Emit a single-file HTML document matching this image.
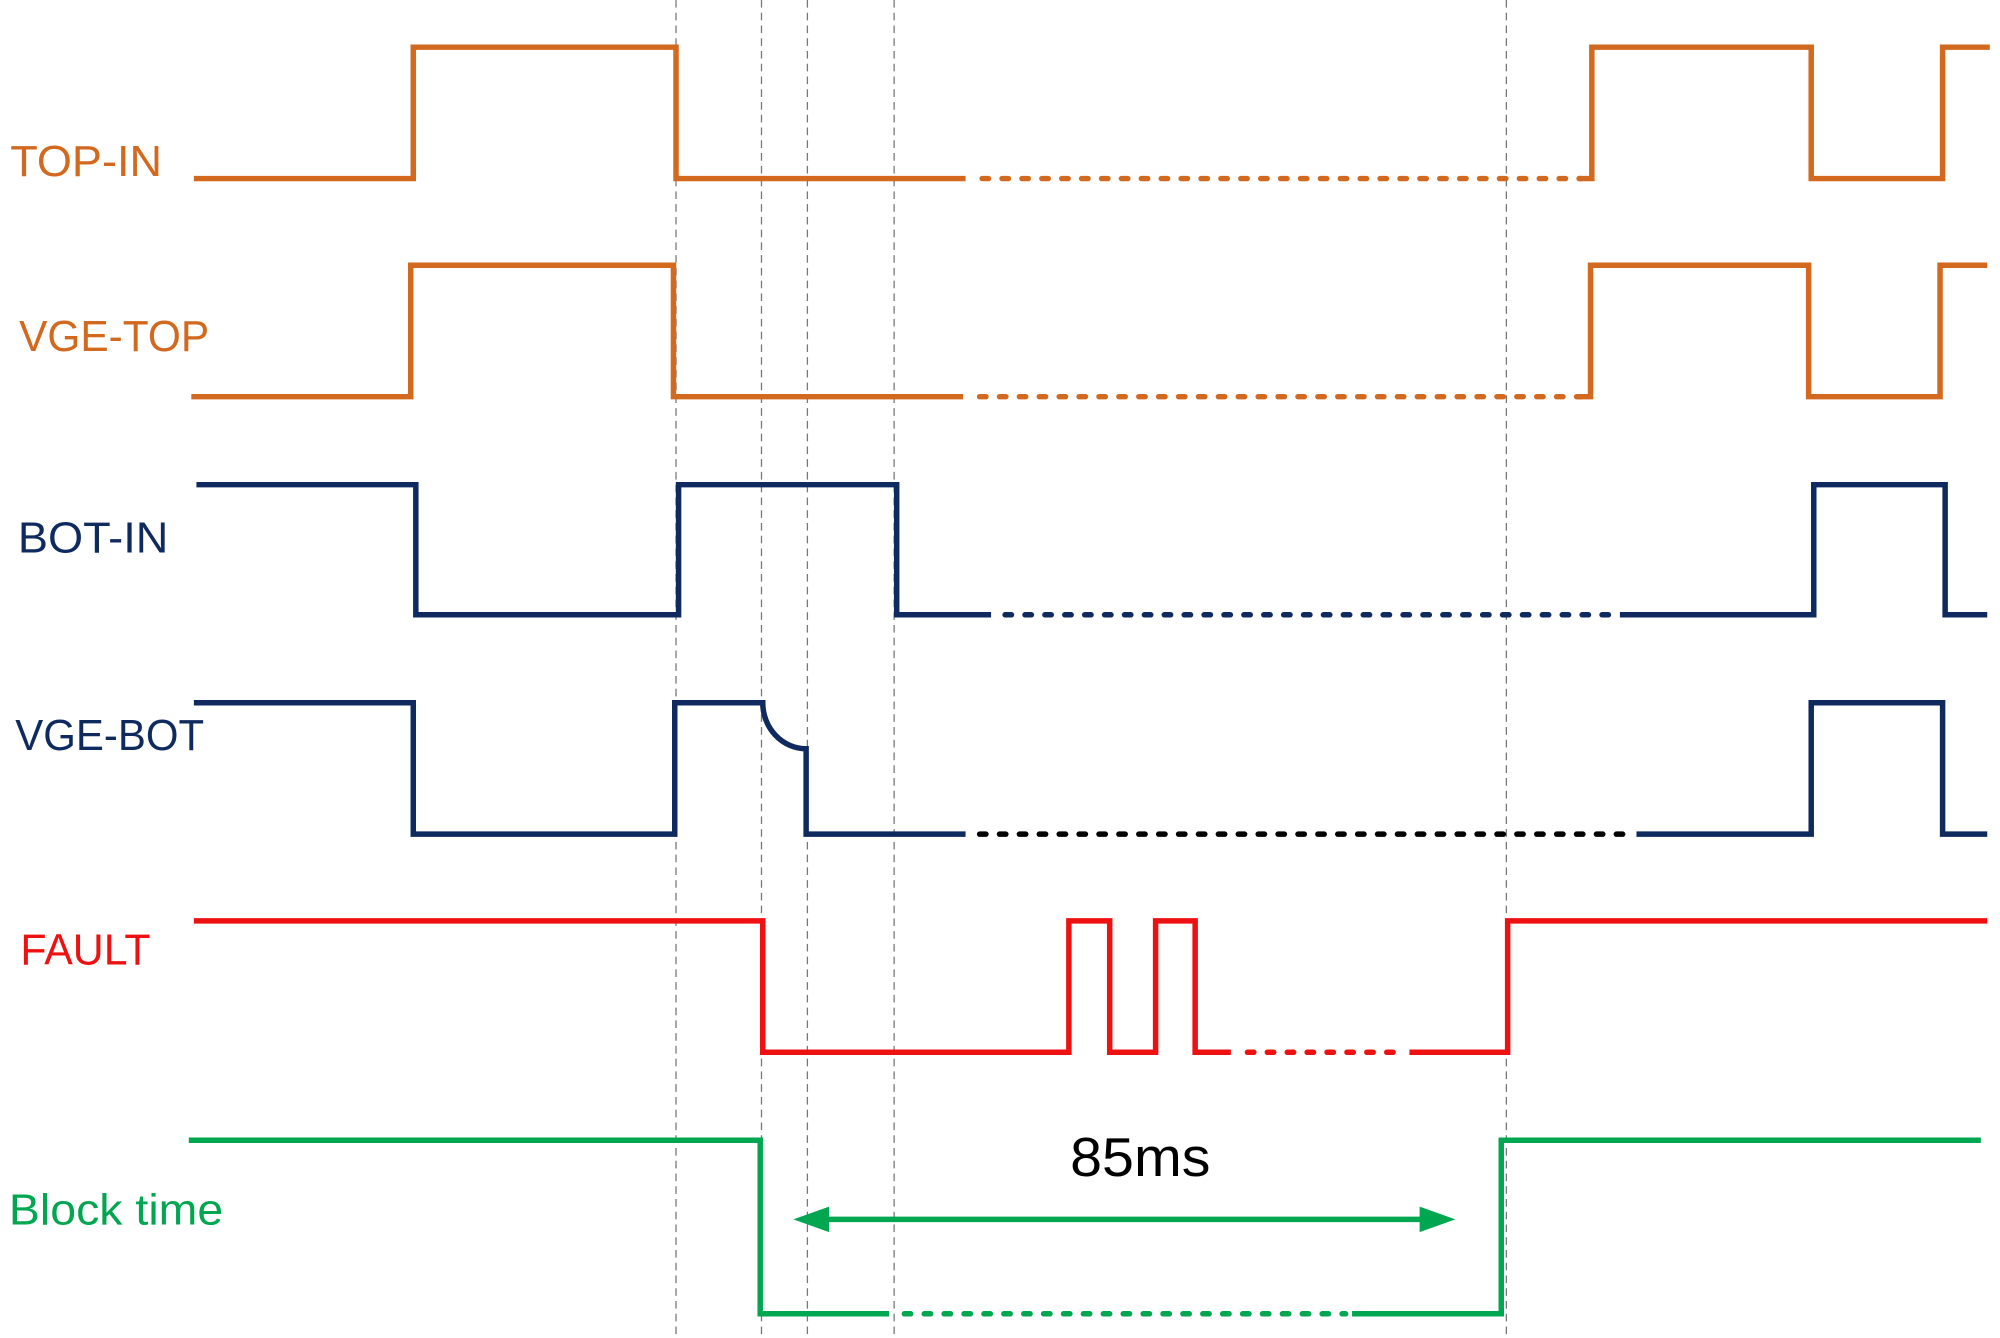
<!DOCTYPE html>
<html><head><meta charset="utf-8"><style>
html,body{margin:0;padding:0;background:#fff}
svg{display:block}
text{font-family:"Liberation Sans",sans-serif}
</style></head><body>
<svg width="2000" height="1338" viewBox="0 0 1568 1049" xmlns="http://www.w3.org/2000/svg">
<g stroke="#777" stroke-width="1" stroke-dasharray="6 4" fill="none">
<line x1="530" y1="0" x2="530" y2="1046"/>
<line x1="597" y1="0" x2="597" y2="1046"/>
<line x1="633" y1="0" x2="633" y2="1046"/>
<line x1="701" y1="0" x2="701" y2="1046"/>
<line x1="1181" y1="0" x2="1181" y2="1046"/>
</g>
<g fill="none" stroke-width="4.3" stroke-linejoin="miter">
<g stroke="#D2691E">
<path d="M152 140 H324 V37 H530 V140 H757"/>
<path d="M770 140 H1240" stroke-dasharray="5 10.6" stroke-linecap="round"/>
<path d="M1238 140 H1248 V37 H1420 V140 H1523 V37 H1560"/>
<path d="M150 311 H322 V208 H528 V311 H755"/>
<path d="M768 311 H1240" stroke-dasharray="5 10.6" stroke-linecap="round"/>
<path d="M1236 311 H1247 V208 H1418 V311 H1521 V208 H1558"/>
</g>
<g stroke="#0F2A5F">
<path d="M154 380 H326 V482 H532 V380 H703 V482 H777"/>
<path d="M788 482 H1268" stroke-dasharray="5 10.6" stroke-linecap="round"/>
<path d="M1270 482 H1422 V380 H1525 V482 H1558"/>
<path d="M152 551 H324 V654 H529 V551 H598 A34 36 0 0 0 632 587 V654 H757"/>
<path d="M1283 654 H1420 V551 H1523 V654 H1558"/>
</g>
<path d="M768 654 H1280" stroke="#000" stroke-dasharray="5 10.6" stroke-linecap="round"/>
<g stroke="#EE1111">
<path d="M152 722 H598 V825 H838 V722 H870 V825 H906 V722 H937 V825 H965"/>
<path d="M978 825 H1100" stroke-dasharray="5 10.6" stroke-linecap="round"/>
<path d="M1105 825 H1182 V722 H1558"/>
</g>
<g stroke="#00A650">
<path d="M148 894 H596 V1030 H697"/>
<path d="M709 1030 H1055" stroke-dasharray="5 10.6" stroke-linecap="round"/>
<path d="M1060 1030 H1177 V894 H1553"/>
<line x1="640" y1="956" x2="1120" y2="956"/>
</g>
</g>
<polygon points="622,956 650,946 650,966" fill="#00A650"/>
<polygon points="1141,956 1113,946 1113,966" fill="#00A650"/>
<text x="839" y="922" font-size="43" textLength="110" lengthAdjust="spacingAndGlyphs" fill="#000">85ms</text>
<g font-size="34">
<text x="8" y="138" fill="#D2691E" textLength="119" lengthAdjust="spacingAndGlyphs">TOP-IN</text>
<text x="15" y="275" fill="#D2691E" textLength="149" lengthAdjust="spacingAndGlyphs">VGE-TOP</text>
<text x="14" y="433" fill="#0F2A5F" textLength="118" lengthAdjust="spacingAndGlyphs">BOT-IN</text>
<text x="12" y="588" fill="#0F2A5F" textLength="148" lengthAdjust="spacingAndGlyphs">VGE-BOT</text>
<text x="16" y="756" fill="#EE1111" textLength="102" lengthAdjust="spacingAndGlyphs">FAULT</text>
<text x="7" y="960" fill="#00A650" textLength="168" lengthAdjust="spacingAndGlyphs">Block time</text>
</g>
</svg>
</body></html>
